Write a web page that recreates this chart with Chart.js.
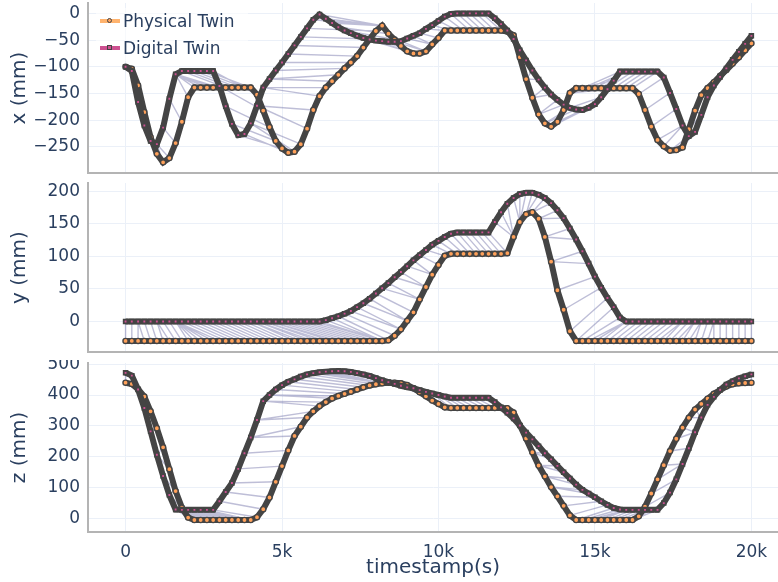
<!DOCTYPE html>
<html>
<head>
<meta charset="utf-8">
<script src="https://cdn.jsdelivr.net/npm/chart.js@4.4.0/dist/chart.umd.min.js"></script>
<style>
  html, body { margin: 0; padding: 0; background: #fff; }
  #wrap { position: relative; width: 778px; height: 582px; overflow: hidden; font-family: 'DejaVu Sans', sans-serif; }
  canvas { position: absolute; left: 0; }
  #legend { position: absolute; left: 96px; top: 8px; width: 152px; height: 53px; background: rgba(255,255,255,0.6); }
  #legend .item { position: absolute; left: 4px; height: 26px; line-height: 26px; font-size: 17px; color: #2a3f5f; white-space: nowrap; }
  #legend .ln { position: absolute; left: 0; top: 11px; width: 20px; height: 4px; }
  #legend .mk { position: absolute; left: 7px; top: 10px; width: 3px; height: 3px; border: 1.5px solid #444; }
  #legend .txt { position: absolute; left: 23px; top: 0; }
</style>
</head>
<body>
<div id="wrap">
  <canvas id="p1" width="778" height="180" style="top:0"></canvas>
  <canvas id="p2" width="778" height="180" style="top:180px"></canvas>
  <canvas id="p3" width="778" height="222" style="top:360px"></canvas>
  <div id="legend">
    <div class="item" style="top:0">
      <span class="ln" style="background:#ffb36e"></span><span class="mk" style="background:#ffa15a;border-radius:50%"></span>
      <span class="txt">Physical Twin</span>
    </div>
    <div class="item" style="top:27px">
      <span class="ln" style="background:#cc5090"></span><span class="mk" style="background:#cc5090"></span>
      <span class="txt">Digital Twin</span>
    </div>
  </div>
</div>
<script>
// timestamps shared by both twins
const timestamps = [
  0, 200, 400, 600, 800, 1000, 1200, 1400, 1600, 1800,
  2000, 2200, 2400, 2600, 2800, 3000, 3200, 3400, 3600, 3800,
  4000, 4200, 4400, 4600, 4800, 5000, 5200, 5400, 5600, 5800,
  6000, 6200, 6400, 6600, 6800, 7000, 7200, 7400, 7600, 7800,
  8000, 8200, 8400, 8600, 8800, 9000, 9200, 9400, 9600, 9800,
  10000, 10200, 10400, 10600, 10800, 11000, 11200, 11400, 11600, 11800,
  12000, 12200, 12400, 12600, 12800, 13000, 13200, 13400, 13600, 13800,
  14000, 14200, 14400, 14600, 14800, 15000, 15200, 15400, 15600, 15800,
  16000, 16200, 16400, 16600, 16800, 17000, 17200, 17400, 17600, 17800,
  18000, 18200, 18400, 18600, 18800, 19000, 19200, 19400, 19600, 19800, 20000
];

const physX = [
  -100, -104, -135, -185, -232, -263, -279, -271, -243, -203,
  -157, -139, -139, -139, -139, -139, -139, -139, -139, -139,
  -139, -152, -182, -213, -239, -253, -261, -259, -245, -216,
  -181, -155, -139, -127, -115, -103, -92, -80, -64, -48,
  -33, -23, -38, -49, -61, -71, -75, -75, -71, -58,
  -46, -32, -32, -32, -32, -32, -32, -32, -32, -32,
  -32, -34, -41, -82, -123, -158, -189, -206, -212, -203,
  -181, -149, -140, -140, -140, -140, -140, -140, -140, -140,
  -140, -140, -151, -181, -212, -237, -249, -257, -256, -251,
  -217, -182, -153, -140, -129, -117, -106, -94, -82, -69, -56
];
const digX = [
  -100, -108, -166, -210, -239, -245, -214, -160, -114, -108,
  -108, -108, -108, -108, -108, -136, -174, -207, -228, -226,
  -206, -173, -139, -123, -107, -92, -76, -60, -44, -28,
  -12, -2, -10, -18, -26, -32, -37, -42, -46, -49,
  -51, -52, -53, -53, -52, -47, -42, -37, -29, -22,
  -14, -6, -1, 0, 0, 0, 0, 0, 0, -9,
  -20, -32, -48, -69, -88, -107, -124, -139, -152, -162,
  -171, -177, -180, -181, -177, -170, -157, -142, -126, -109,
  -109, -109, -109, -109, -109, -109, -120, -149, -179, -210,
  -230, -222, -190, -157, -135, -119, -103, -87, -72, -57, -42
];
const physY = [
  -30, -30, -30, -30, -30, -30, -30, -30, -30, -30,
  -30, -30, -30, -30, -30, -30, -30, -30, -30, -30,
  -30, -30, -30, -30, -30, -30, -30, -30, -30, -30,
  -30, -30, -30, -30, -30, -30, -30, -30, -30, -30,
  -30, -30, -29, -22, -12, 1, 14, 34, 53, 72,
  87, 101, 104, 104, 104, 104, 104, 104, 104, 104,
  104, 105, 130, 153, 165, 168, 158, 130, 92, 48,
  18, -15, -30, -30, -30, -30, -30, -30, -30, -30,
  -30, -30, -30, -30, -30, -30, -30, -30, -30, -30,
  -30, -30, -30, -30, -30, -30, -30, -30, -30, -30, -30
];
const digY = [
  0, 0, 0, 0, 0, 0, 0, 0, 0, 0,
  0, 0, 0, 0, 0, 0, 0, 0, 0, 0,
  0, 0, 0, 0, 0, 0, 0, 0, 0, 0,
  0, 0, 2, 5, 8, 12, 16, 22, 28, 35,
  43, 51, 59, 68, 76, 85, 94, 102, 110, 118,
  124, 130, 135, 137, 137, 137, 137, 137, 137, 153,
  168, 181, 190, 196, 198, 198, 195, 190, 182, 171,
  159, 143, 126, 108, 89, 69, 52, 36, 22, 6,
  0, 0, 0, 0, 0, 0, 0, 0, 0, 0,
  0, 0, 0, 0, 0, 0, 0, 0, 0, 0, 0
];
const physZ = [
  440, 436, 419, 395, 347, 292, 230, 159, 88, 34,
  2, -6, -6, -6, -6, -6, -6, -6, -6, -6,
  -6, 3, 29, 67, 118, 169, 220, 267, 297, 327,
  347, 364, 377, 389, 397, 404, 411, 418, 425, 431,
  435, 438, 440, 440, 438, 432, 422, 409, 396, 382,
  371, 360, 358, 358, 358, 358, 358, 358, 358, 358,
  358, 357, 343, 302, 259, 214, 171, 136, 101, 71,
  40, 9, -6, -6, -6, -6, -6, -6, -6, -6,
  -6, -6, 6, 37, 80, 126, 172, 218, 258, 294,
  326, 353, 371, 388, 404, 416, 428, 435, 438, 439, 440
];
const digZ = [
  472, 463, 418, 358, 282, 206, 137, 75, 28, 27,
  27, 27, 27, 27, 27, 55, 85, 114, 160, 211,
  262, 319, 380, 400, 418, 432, 443, 451, 460, 467,
  471, 474, 476, 477, 478, 477, 475, 471, 467, 462,
  455, 448, 442, 436, 430, 425, 422, 416, 410, 405,
  400, 395, 391, 391, 391, 391, 391, 391, 391, 377,
  360, 342, 324, 301, 278, 256, 234, 211, 191, 170,
  149, 129, 109, 92, 80, 68, 55, 43, 33, 28,
  27, 27, 27, 27, 27, 27, 49, 83, 126, 176,
  227, 279, 327, 368, 394, 417, 434, 445, 454, 461, 467
];

const xTicks = [0, 5000, 10000, 15000, 20000];
const xTicksP1 = [-250, -200, -150, -100, -50, 0];
const yTicksP2 = [0, 50, 100, 150, 200];
const zTicksP3 = [0, 100, 200, 300, 400, 500];

const TEXT = '#2a3f5f';
const GRID = '#ebf0f8';
const AXIS = '#b4b4b4';
Chart.defaults.font.family = "'DejaVu Sans', sans-serif";
Chart.defaults.color = TEXT;

// DTW warping path on the 3D trajectories
function warpPath() {
  const n = timestamps.length;
  const cost = [];
  for (let i = 0; i < n; i++) {
    cost.push(new Float64Array(n).fill(Infinity));
    for (let j = 0; j < n; j++) {
      const d = Math.hypot(physX[i] - digX[j], physY[i] - digY[j], physZ[i] - digZ[j]);
      let best = 0;
      if (i > 0 || j > 0) {
        best = Math.min(
          i > 0 ? cost[i - 1][j] : Infinity,
          j > 0 ? cost[i][j - 1] : Infinity,
          i > 0 && j > 0 ? cost[i - 1][j - 1] : Infinity
        );
      }
      cost[i][j] = d + best;
    }
  }
  const path = [];
  let i = n - 1, j = n - 1;
  path.push([i, j]);
  while (i > 0 || j > 0) {
    if (i === 0) j--;
    else if (j === 0) i--;
    else {
      const diag = cost[i - 1][j - 1], up = cost[i - 1][j], left = cost[i][j - 1];
      if (diag <= up && diag <= left) { i--; j--; }
      else if (up < left) i--;
      else j--;
    }
    path.push([i, j]);
  }
  return path;
}
const path = warpPath();

const fmtMinus = v => (v < 0 ? '\u2212' + Math.abs(v) : String(v));
const fmtK = v => (v === 0 ? '0' : v / 1000 + 'k');

function makePanel(id, opts) {
  const pts = arr => arr.map((v, i) => ({ x: timestamps[i], y: v }));
  const links = [];
  path.forEach(([i, j]) => {
    links.push({ x: timestamps[i], y: opts.phys[i] });
    links.push({ x: timestamps[j], y: opts.dig[j] });
    links.push({ x: timestamps[j], y: null });
  });

  const bottom = opts.bottom;
  new Chart(document.getElementById(id), {
    type: 'scatter',
    data: {
      datasets: [
        { label: 'Digital Twin', data: pts(opts.dig), showLine: false, order: 0,
          pointStyle: 'rect', pointRadius: 2.6, borderWidth: 1.8,
          pointBackgroundColor: '#cc5090', pointBorderColor: '#444' },
        { label: 'digital band', data: pts(opts.dig), showLine: true, order: 1,
          borderColor: '#444', borderWidth: 6, pointRadius: 0, tension: 0 },
        { label: 'Physical Twin', data: pts(opts.phys), showLine: false, order: 2,
          pointStyle: 'circle', pointRadius: 2.6, borderWidth: 1.4,
          pointBackgroundColor: '#ffa15a', pointBorderColor: '#444' },
        { label: 'physical band', data: pts(opts.phys), showLine: true, order: 3,
          borderColor: '#444', borderWidth: 6, pointRadius: 0, tension: 0 },
        { label: 'alignment', data: links, showLine: true, spanGaps: false, order: 4,
          borderColor: 'rgba(100,100,160,0.42)', borderWidth: 1.4, pointRadius: 0 }
      ]
    },
    options: {
      responsive: false,
      animation: false,
      events: [],
      layout: { autoPadding: false, padding: { top: 3, right: 0, left: 0, bottom: 0 } },
      plugins: { legend: { display: false }, tooltip: { enabled: false } },
      scales: {
        x: {
          type: 'linear', min: -1200, max: 20850,
          afterBuildTicks: s => { s.ticks = xTicks.map(v => ({ value: v })); },
          afterFit: s => { s.height = bottom ? 50 : (id === 'p1' ? 7 : 8); s.paddingLeft = 0; s.paddingRight = 0; },
          grid: { color: GRID, lineWidth: 1, drawTicks: false },
          border: { display: true, color: AXIS, width: 2 },
          ticks: { display: bottom, padding: 10, font: { size: 17 }, color: TEXT, callback: fmtK, maxRotation: 0 },
          title: { display: bottom, text: 'timestamp(s)', font: { size: 20 }, color: TEXT, padding: { top: 0, bottom: 2 } }
        },
        y: {
          type: 'linear', min: opts.min, max: opts.max,
          afterBuildTicks: s => { s.ticks = opts.ticks.map(v => ({ value: v })); },
          afterFit: s => { s.width = 88; s.paddingTop = 0; s.paddingBottom = 0; },
          grid: { color: GRID, lineWidth: 1, drawTicks: false },
          border: { display: true, color: AXIS, width: 2 },
          ticks: { padding: 8, font: { size: 17 }, color: TEXT, callback: fmtMinus },
          title: { display: true, text: opts.title, font: { size: 20 }, color: TEXT, padding: { top: 8, bottom: 0 } }
        }
      }
    }
  });
}

makePanel('p1', { title: 'x (mm)', phys: physX, dig: digX, min: -299, max: 19.5, ticks: xTicksP1, bottom: false });
makePanel('p2', { title: 'y (mm)', phys: physY, dig: digY, min: -47, max: 213, ticks: yTicksP2, bottom: false });
makePanel('p3', { title: 'z (mm)', phys: physZ, dig: digZ, min: -45, max: 504, ticks: zTicksP3, bottom: true });
</script>
</body>
</html>
